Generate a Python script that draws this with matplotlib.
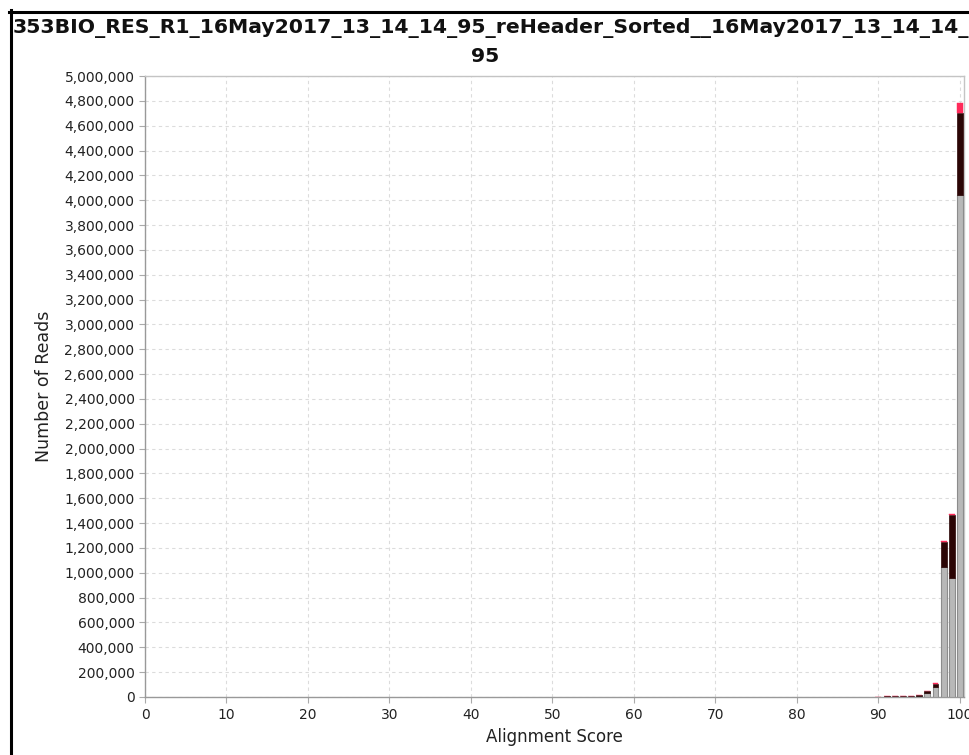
import matplotlib
matplotlib.use("Agg")
import matplotlib.pyplot as plt
from matplotlib.lines import Line2D
from matplotlib.ticker import FuncFormatter, MultipleLocator

# ---- data ----
scores = [90, 91, 92, 93, 94, 95, 96, 97, 98, 99, 100]
grey_reads = [3000, 4000, 5000, 6000, 6000, 9000, 30000, 82000, 1045000, 958000, 4045000]
dark_reads = [1000, 1500, 2000, 2000, 2500, 4000, 16000, 26000, 203000, 507000, 655000]
pink_reads = [0, 0, 0, 0, 0, 0, 1000, 3000, 5000, 5000, 80000]
title_line1 = "353BIO_RES_R1_16May2017_13_14_14_95_reHeader_Sorted__16May2017_13_14_14_95"
title_line2 = "95"
x_label = "Alignment Score"
y_label = "Number of Reads"

W, H = 969, 755
fig = plt.figure(figsize=(W / 100, H / 100), dpi=100)
fig.patch.set_facecolor("white")

ax = fig.add_axes([145 / W, 1 - 697 / H, (964 - 145) / W, (697 - 76) / H])

bw = 0.72
ax.bar(scores, grey_reads, width=bw, color="#b8b8b8", edgecolor="#8c8c8c", linewidth=0.8, zorder=3)
bottom2 = [g for g in grey_reads]
ax.bar(scores, dark_reads, width=bw, bottom=bottom2, color="#2b0505", edgecolor="#2b0505", linewidth=0.5, zorder=3)
bottom3 = [g + d for g, d in zip(grey_reads, dark_reads)]
ax.bar(scores, pink_reads, width=bw, bottom=bottom3, color="#ff2a5a", edgecolor="#ff2a5a", linewidth=0.3, zorder=3)

ax.set_xlim(0, 100.5)
ax.set_ylim(0, 5000000)
ax.xaxis.set_major_locator(MultipleLocator(10))
ax.yaxis.set_major_locator(MultipleLocator(200000))
ax.yaxis.set_major_formatter(FuncFormatter(lambda v, p: f"{int(round(v)):,}"))

ax.grid(True, color="#dcdcdc", linestyle=(0, (3, 3)), linewidth=0.8, zorder=0)
for s in ax.spines.values():
    s.set_color("#c4c4c4")
    s.set_linewidth(1.0)
ax.spines["left"].set_color("#999999")
ax.spines["bottom"].set_color("#999999")
ax.tick_params(axis="both", colors="#aaaaaa", labelcolor="#222222", length=4, width=0.8, labelsize=10)
ax.tick_params(axis="x", pad=4)

ax.set_xlabel(x_label, fontsize=12, color="#222222", labelpad=4)
ax.set_ylabel(y_label, fontsize=12.5, color="#222222", labelpad=8)

fig.text(13 / W, 1 - 28 / H, title_line1, ha="left", va="center", fontsize=14.7,
         fontweight="bold", color="#111111")
fig.text(485 / W, 1 - 57 / H, title_line2, ha="center", va="center", fontsize=14.7,
         fontweight="bold", color="#111111")

# black border
fig.add_artist(Line2D([10.5 / W, 10.5 / W], [0, 1 - 10 / H], color="black", linewidth=2.2,
                      transform=fig.transFigure))
fig.add_artist(Line2D([9 / W, 1], [1 - 11.5 / H, 1 - 11.5 / H], color="black", linewidth=2.2,
                      transform=fig.transFigure))

fig.savefig("out.png", dpi=100)
